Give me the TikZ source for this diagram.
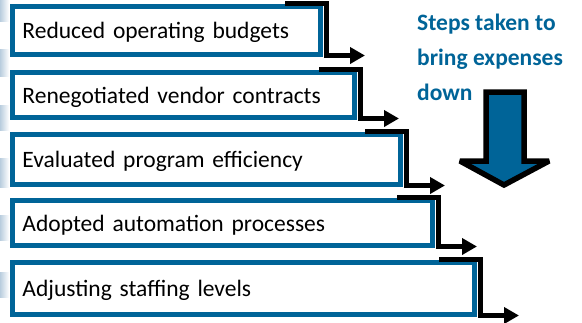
\documentclass[tikz,border=0pt]{standalone}
\usepackage{fontspec}
\setmainfont{Carlito}
\usetikzlibrary{arrows.meta,calc}
\definecolor{stepblue}{RGB}{0,100,152}
\definecolor{edgeblue}{RGB}{185,205,222}
\begin{document}
\begin{tikzpicture}[x=1pt,y=-1pt,
  stepbox/.style={draw=stepblue, line width=5pt, fill=white, rectangle,
    inner xsep=10pt, inner ysep=0pt, align=left, text height=17pt, text depth=1pt,
    font=\fontsize{23.5}{28}\selectfont, text=black},
  flow/.style={draw=black, line width=5pt, line join=miter,
    -{Triangle[length=15pt,width=16pt]}},
  strip/.style={left color=edgeblue, right color=white, draw=none},
  bigarrow/.style={draw=black, fill=stepblue, line width=5.5pt, line join=miter, miter limit=2}]
\useasboundingbox (0,0) rectangle (582,322);
% left edge strips
\fill[strip] (0,0) rectangle (9,21);
\fill[strip] (0,49) rectangle (9,76);
\fill[strip] (0,105) rectangle (9,130);
\fill[strip] (0,158) rectangle (9,187);
\fill[strip] (0,215) rectangle (9,240);
\fill[strip] (0,272) rectangle (9,297);
% boxes
\node[stepbox, minimum width=308pt, minimum height=48pt, text width=288pt] (b1) at (166.5,30.5) {Reduced operating budgets};
\node[stepbox, minimum width=342pt, minimum height=45pt, text width=322pt] (b2) at (183.5,95) {Renegotiated vendor contracts};
\node[stepbox, minimum width=388pt, minimum height=50pt, text width=368pt] (b3) at (206.5,159.5) {Evaluated program efficiency};
\node[stepbox, minimum width=420pt, minimum height=45pt, text width=400pt] (b4) at (222.5,223) {Adopted automation processes};
\node[stepbox, minimum width=462pt, minimum height=52pt, text width=442pt] (b5) at (243.5,288.5) {Adjusting staffing levels};
% connectors
\foreach \b in {b1,b2,b3,b4,b5}{
  \draw[flow] ($(\b.north east)+(-38,-1)$) -- ($(\b.north east)+(3,-1)$)
    -- ($(\b.south east)+(3,-1.5)$) -- ($(\b.south east)+(42,-1.5)$);
}
% title
\node[anchor=base west, inner sep=0pt, align=left, text=stepblue,
  font=\fontsize{23.5}{35}\selectfont\bfseries] (title) at (417,100)
  {Steps taken to\\bring expenses\\down};
% big down arrow
\draw[bigarrow] (486,92) -- (524,92) -- (524,161) -- (549,161) -- (504,185)
  -- (460,161) -- (486,161) -- cycle;
\end{tikzpicture}
\end{document}
